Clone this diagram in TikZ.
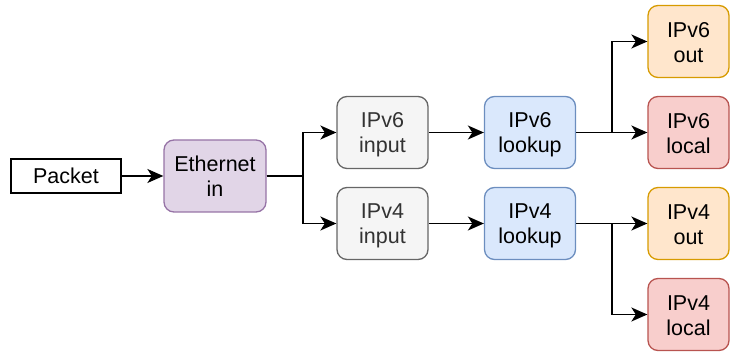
\documentclass[tikz,border=0pt]{standalone}
\usepackage{fontspec}
\setmainfont{Liberation Sans}
\usetikzlibrary{arrows.meta}
\definecolor{purF}{HTML}{E1D5E7}\definecolor{purD}{HTML}{9673A6}
\definecolor{grayF}{HTML}{F5F5F5}\definecolor{grayD}{HTML}{666666}\definecolor{grayT}{HTML}{333333}
\definecolor{bluF}{HTML}{DAE8FC}\definecolor{bluD}{HTML}{6C8EBF}
\definecolor{orF}{HTML}{FFE6CC}\definecolor{orD}{HTML}{D79B00}
\definecolor{redF}{HTML}{F8CECC}\definecolor{redD}{HTML}{B85450}
\newcommand{\twol}[2]{\rule{0pt}{20pt}#1\\#2\rule[-3.4pt]{0pt}{3.4pt}}
\tikzset{
  box/.style={rounded corners=10pt, line width=1.3pt, minimum width=91pt, minimum height=72pt,
    align=center, font=\fontsize{21.5}{25}\selectfont, inner sep=0pt},
  purbox/.style={box, draw=purD, fill=purF, minimum width=102pt},
  graybox/.style={box, draw=grayD, fill=grayF, text=grayT},
  blubox/.style={box, draw=bluD, fill=bluF},
  orbox/.style={box, draw=orD, fill=orF, minimum width=81pt},
  redbox/.style={box, draw=redD, fill=redF, minimum width=81pt},
  conn/.style={line width=1.8pt, -{Stealth[length=16pt,width=14pt,inset=4.5pt]}},
}
\begin{document}
\begin{tikzpicture}[x=1pt,y=-1pt]
\useasboundingbox (0,0) rectangle (730,352);
\node[draw=black, line width=1.3pt, minimum width=110pt, minimum height=34pt, inner sep=0pt,
  font=\fontsize{21.5}{25}\selectfont] (pk) at (66,176) {Packet};
\node[purbox] (eth) at (215,176) {\twol{Ethernet}{in}};
\node[graybox] (i6) at (382.5,132.5) {\twol{IPv6}{input}};
\node[graybox] (i4) at (382.5,223.5) {\twol{IPv4}{input}};
\node[blubox] (l6) at (530,132.5) {\twol{IPv6}{lookup}};
\node[blubox] (l4) at (530,223.5) {\twol{IPv4}{lookup}};
\node[orbox] (o6) at (688.5,41.5) {\twol{IPv6}{out}};
\node[redbox] (c6) at (688.5,132.5) {\twol{IPv6}{local}};
\node[orbox] (o4) at (688.5,223.5) {\twol{IPv4}{out}};
\node[redbox] (c4) at (688.5,314.5) {\twol{IPv4}{local}};
\draw[conn] (pk) -- (eth);
\draw[conn] (eth.east) -- ++(36,0) |- (i6.west);
\draw[conn] (eth.east) -- ++(36,0) |- (i4.west);
\draw[conn] (i6) -- (l6);
\draw[conn] (i4) -- (l4);
\draw[conn] (l6.east) -- (c6.west);
\draw[conn] (l6.east) -- ++(36,0) |- (o6.west);
\draw[conn] (l4.east) -- (o4.west);
\draw[conn] (l4.east) -- ++(36,0) |- (c4.west);
\end{tikzpicture}
\end{document}
